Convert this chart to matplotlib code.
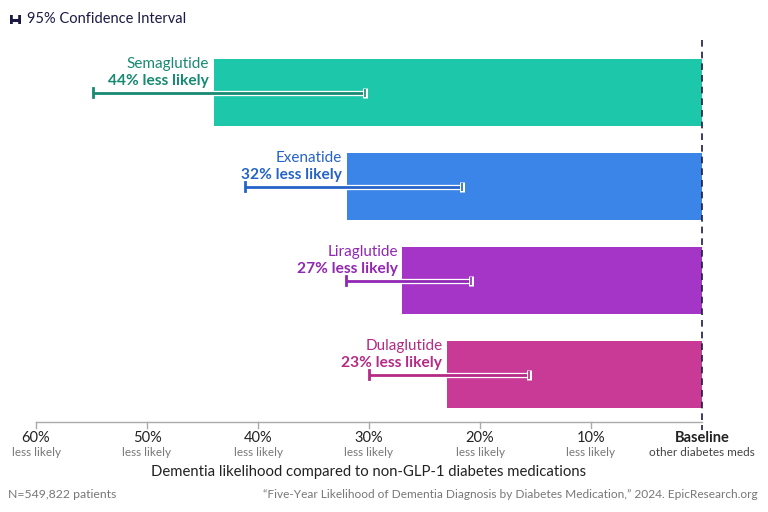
import matplotlib.pyplot as plt
import matplotlib.patheffects as pe
from matplotlib.transforms import blended_transform_factory

plt.rcParams['font.family'] = ['Lato', 'DejaVu Sans']

drugs = ['Semaglutide', 'Exenatide', 'Liraglutide', 'Dulaglutide']
reduction = [44, 32, 27, 23]
ci_low = [30.4, 21.6, 20.8, 15.6]
ci_high = [54.9, 41.2, 32.1, 30.0]
bar_colors = ['#1dc8aa', '#3b85e8', '#a535c6', '#c93a96']
text_colors = ['#178a72', '#2563c9', '#9127b3', '#b42a85']
tick_vals = [60, 50, 40, 30, 20, 10]

fig = plt.figure(figsize=(7.68, 5.12), dpi=100)
ax = fig.add_axes([36 / 768, 1 - 422 / 512, 666 / 768, 382 / 512])

for i, (name, r, lo, hi, bc, tc) in enumerate(zip(drugs, reduction, ci_low, ci_high, bar_colors, text_colors)):
    ax.barh(i, r, left=-r, height=0.71, color=bc, zorder=2)
    ax.plot([-hi, -lo], [i, i], color=tc, lw=2.0, solid_capstyle='butt', zorder=3,
            path_effects=[pe.Stroke(linewidth=3.8, foreground='white'), pe.Normal()])
    ax.plot([-hi, -hi], [i - 0.045, i + 0.045], color=tc, lw=2, zorder=4)
    ax.plot([-lo], [i], marker='|', markersize=7, mew=3.6, color='white', zorder=4)
    ax.plot([-lo], [i], marker='|', markersize=5.5, mew=1.2, color=tc, zorder=5)
    ax.text(-r - 0.4, i - 0.30, name, ha='right', va='center', fontsize=11, color=tc)
    ax.text(-r - 0.4, i - 0.125, f'{r}% less likely', ha='right', va='center',
            fontsize=11.2, fontweight='bold', color=tc)

ax.set_xlim(-60, 0)
ax.set_ylim(3.505, -0.56)
ax.axis('off')

# baseline dashed line
ax.plot([0, 0], [-0.56, 3.59], color='#1c1a45', lw=1.2, ls=(0, (4, 3)), zorder=6, clip_on=False)

# bottom axis
ax.plot([-60, 0], [3.505, 3.505], color='#aaaaaa', lw=1, clip_on=False)
tr = blended_transform_factory(ax.transData, fig.transFigure)
for v in tick_vals:
    ax.plot([-v, -v], [3.505, 3.57], color='#aaaaaa', lw=1, clip_on=False)
    ax.text(-v, 1 - 438 / 512, f'{v}%', transform=tr, ha='center', va='center',
            fontsize=10.5, color='#222222')
    ax.text(-v, 1 - 452 / 512, 'less likely', transform=tr, ha='center', va='center',
            fontsize=8.5, color='#777777')
ax.text(0, 1 - 438 / 512, 'Baseline', transform=tr, ha='center', va='center',
        fontsize=10.5, fontweight='bold', color='#222222')
ax.text(0, 1 - 452 / 512, 'other diabetes meds', transform=tr, ha='center', va='center',
        fontsize=8.5, color='#444444')

fig.text(369 / 768, 1 - 472 / 512, 'Dementia likelihood compared to non-GLP-1 diabetes medications',
         ha='center', va='center', fontsize=10.7, color='#222222')
fig.text(8 / 768, 1 - 494 / 512, 'N=549,822 patients', ha='left', va='center',
         fontsize=8.8, color='#777777')
fig.text(758 / 768, 1 - 494 / 512,
         '\u201cFive-Year Likelihood of Dementia Diagnosis by Diabetes Medication,\u201d 2024. EpicResearch.org',
         ha='right', va='center', fontsize=8.6, color='#777777')

# legend
fig.text(27 / 768, 1 - 19 / 512, '95% Confidence Interval', ha='left', va='center',
         fontsize=10.5, color='#1c1a45')
lx = fig.add_axes([10 / 768, 1 - 24 / 512, 11 / 768, 9 / 512])
lx.plot([0, 1], [0.5, 0.5], color='#1c1a45', lw=2.2)
lx.plot([0, 0], [0, 1], color='#1c1a45', lw=2.6)
lx.plot([1, 1], [0, 1], color='#1c1a45', lw=2.6)
lx.set_xlim(-0.1, 1.1)
lx.set_ylim(0, 1)
lx.axis('off')

fig.savefig('out.png', dpi=100)
